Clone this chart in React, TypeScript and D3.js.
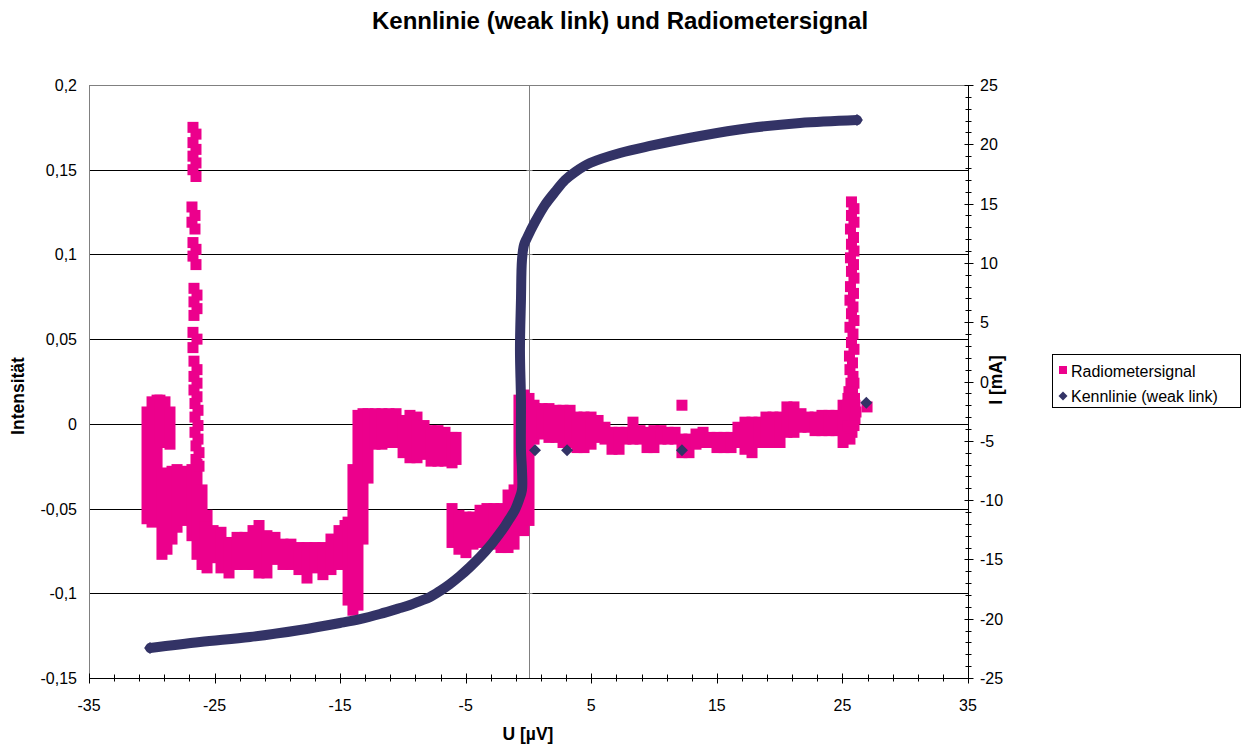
import React, { useEffect, useRef } from 'react';
import * as d3 from 'd3';

// Kennlinie (weak link): U [µV] vs I [mA], right axis
const kennlinie: [number, number][] = [
  [-30.14, -22.47], [-26.16, -21.96], [-22.18, -21.54], [-18.2, -20.95], [-15.01, -20.36],
  [-13.42, -20.03], [-11.83, -19.6], [-10.23, -19.1], [-9.44, -18.84], [-8.64, -18.51],
  [-7.84, -18.17], [-7.05, -17.66], [-6.25, -17.07], [-5.46, -16.4], [-4.66, -15.64],
  [-3.86, -14.8], [-3.07, -13.87], [-2.27, -12.77], [-1.87, -12.18], [-1.47, -11.51],
  [-1.08, -10.83], [-0.76, -9.99], [-0.52, -9.15], [-0.52, -7.46], [-0.6, -5.78],
  [-0.6, -1.56], [-0.68, 2.65], [-0.6, 6.87], [-0.52, 10.24], [-0.36, 11.51],
  [-0.12, 12.1], [0.52, 13.45], [1.31, 14.88], [2.11, 15.98], [2.91, 16.99],
  [3.7, 17.66], [4.9, 18.42], [7.29, 19.27], [9.67, 19.86], [13.66, 20.7],
  [17.64, 21.37], [21.62, 21.8], [26.16, 22.05]
];
const kennlinieStray: [number, number][] = [[0.52, -5.8], [3.07, -5.8], [12.22, -5.8], [26.9, -1.8]];

// Radiometersignal, dense stretches: [U, upper value, lower value] of each column of squares
const radioLeftCol: [number, number, number][] = [
  [-30.38, 0.007, -0.056], [-29.98, 0.013, -0.058], [-29.58, 0.014, -0.048]
];
const radioOval: [number, number, number][] = [
  [-29.35, 0.014, -0.009], [-28.95, 0.013, -0.011], [-28.55, 0.007, -0.012]
];
const radioMass: [number, number, number][] = [
  [-29.19, -0.030, -0.077], [-28.79, -0.029, -0.074], [-28.39, -0.028, -0.068], [-27.99, -0.027, -0.061],
  [-27.6, -0.028, -0.057], [-27.2, -0.032, -0.054], [-26.8, -0.027, -0.066], [-26.4, -0.024, -0.077],
  [-26.0, -0.039, -0.083], [-25.6, -0.054, -0.085]
];
const radioFloor: [number, number, number][] = [
  [-25.76, -0.061, -0.079], [-25.12, -0.063, -0.079], [-24.49, -0.064, -0.085], [-23.85, -0.070, -0.088],
  [-23.21, -0.067, -0.083], [-22.58, -0.067, -0.083], [-21.94, -0.063, -0.083], [-21.46, -0.060, -0.088],
  [-20.83, -0.066, -0.088], [-20.19, -0.067, -0.080], [-19.55, -0.071, -0.083], [-18.92, -0.071, -0.083],
  [-18.28, -0.073, -0.086], [-17.64, -0.073, -0.091], [-17.0, -0.073, -0.085], [-16.37, -0.073, -0.089],
  [-15.73, -0.068, -0.086], [-15.09, -0.063, -0.083], [-14.61, -0.060, -0.081]
];
const radioStep: [number, number, number][] = [
  [-14.37, -0.058, -0.104], [-13.98, -0.027, -0.110], [-13.58, 0.005, -0.107], [-13.18, 0.006, -0.068],
  [-12.78, 0.006, -0.032], [-12.22, 0.006, -0.012], [-11.67, 0.006, -0.012], [-11.11, 0.006, -0.011],
  [-10.55, 0.006, -0.011], [-9.99, 0.002, -0.017], [-9.44, 0.005, -0.020], [-8.88, 0.004, -0.020],
  [-8.32, -0.001, -0.018], [-7.76, -0.004, -0.022], [-7.21, -0.004, -0.022], [-6.65, -0.005, -0.022],
  [-6.09, -0.008, -0.023], [-5.77, -0.008, -0.021]
];
const radioMid: [number, number, number][] = [
  [-6.09, -0.050, -0.070], [-5.54, -0.054, -0.074], [-4.98, -0.055, -0.076], [-4.42, -0.055, -0.071],
  [-3.86, -0.051, -0.070], [-3.31, -0.050, -0.070], [-2.75, -0.050, -0.071], [-2.19, -0.050, -0.073],
  [-1.63, -0.042, -0.073], [-1.15, -0.039, -0.071], [-0.76, 0.014, -0.060], [-0.36, 0.017, -0.063],
  [0.04, 0.015, -0.057], [0.44, 0.011, -0.009]
];
const radioRight: [number, number, number][] = [
  [0.52, 0.009, -0.005], [1.08, 0.009, -0.006], [1.63, 0.009, -0.008], [2.19, 0.008, -0.008],
  [2.75, 0.008, -0.011], [3.31, 0.008, -0.011], [3.86, 0.004, -0.014], [4.42, 0.004, -0.014],
  [4.98, 0.004, -0.012], [5.54, 0.002, -0.008], [6.09, -0.002, -0.009], [6.65, -0.005, -0.015],
  [7.21, -0.005, -0.015], [7.76, -0.005, -0.009], [8.32, 0.001, -0.009], [8.88, -0.004, -0.009],
  [9.44, -0.005, -0.014], [9.99, -0.004, -0.014], [10.55, -0.004, -0.009], [11.11, -0.005, -0.009],
  [11.67, -0.005, -0.009], [12.22, -0.009, -0.017], [12.78, -0.009, -0.017], [13.34, -0.006, -0.012],
  [13.9, -0.005, -0.011], [14.45, -0.008, -0.011], [15.01, -0.008, -0.014], [15.57, -0.008, -0.014],
  [16.13, -0.008, -0.014], [16.68, -0.002, -0.011], [17.24, 0.001, -0.015], [17.8, 0.001, -0.017],
  [18.36, 0.001, -0.011], [18.91, 0.004, -0.011], [19.47, 0.004, -0.011], [20.03, 0.004, -0.011],
  [20.58, 0.010, -0.005], [21.14, 0.010, -0.005], [21.7, 0.006, -0.002], [22.26, 0.004, -0.002],
  [22.82, 0.004, -0.004], [23.37, 0.005, -0.004], [23.93, 0.005, -0.004], [24.49, 0.005, -0.004],
  [25.05, 0.011, -0.011]
];

// Radiometersignal, single squares: [U, value]
const radioSpike: [number, number][] = [
  [-26.72, 0.175], [-26.48, 0.171], [-26.72, 0.166], [-26.48, 0.162], [-26.72, 0.158], [-26.48, 0.154],
  [-26.72, 0.150], [-26.48, 0.146], [-26.8, 0.128], [-26.56, 0.123], [-26.8, 0.119], [-26.56, 0.115],
  [-26.72, 0.107], [-26.48, 0.103], [-26.72, 0.099], [-26.48, 0.094], [-26.64, 0.080], [-26.4, 0.076],
  [-26.64, 0.072], [-26.4, 0.068], [-26.64, 0.064], [-26.72, 0.054], [-26.4, 0.050], [-26.72, 0.045],
  [-26.64, 0.037], [-26.4, 0.032], [-26.64, 0.028], [-26.4, 0.024], [-26.64, 0.020], [-26.4, 0.016],
  [-26.56, 0.012], [-26.32, 0.008], [-26.56, 0.004], [-26.32, -0.001], [-26.56, -0.005], [-26.32, -0.009],
  [-26.48, -0.013], [-26.24, -0.017], [-26.48, -0.021], [-26.24, -0.025]
];
const radioPeak: [number, number][] = [
  [25.72, 0.131], [25.92, 0.127], [25.72, 0.123], [25.92, 0.119], [25.64, 0.115], [25.88, 0.110],
  [25.72, 0.106], [25.92, 0.102], [25.64, 0.098], [25.88, 0.094], [25.72, 0.090], [25.92, 0.086],
  [25.64, 0.081], [25.88, 0.077], [25.6, 0.073], [25.84, 0.069], [25.72, 0.065], [25.92, 0.061],
  [25.6, 0.057], [25.84, 0.053], [25.72, 0.048], [25.92, 0.044], [25.56, 0.040], [25.8, 0.036],
  [25.6, 0.032], [25.84, 0.028], [25.68, 0.024], [25.92, 0.024], [25.52, 0.019], [25.8, 0.019],
  [25.44, 0.015], [25.96, 0.015], [25.4, 0.011], [26.0, 0.011], [25.36, 0.007], [26.08, 0.007],
  [25.28, 0.003], [26.0, 0.003], [25.44, -0.001], [25.92, -0.001], [25.76, -0.005], [25.6, -0.009]
];
const radioSingles: [number, number][] = [[12.22, 0.011], [26.96, 0.010]];

const leftTicks = [-0.15, -0.1, -0.05, 0, 0.05, 0.1, 0.15, 0.2];
const leftTickLabels = ['-0,15', '-0,1', '-0,05', '0', '0,05', '0,1', '0,15', '0,2'];
const rightTicks = [-25, -20, -15, -10, -5, 0, 5, 10, 15, 20, 25];
const xTicks = [-35, -25, -15, -5, 5, 15, 25, 35];

const PINK = '#EC008C';
const NAVY = '#333366';

const App = () => {
  const svgRef = useRef<SVGSVGElement>(null);

  useEffect(() => {
    const svg = d3.select(svgRef.current);
    svg.selectAll('*').remove();
    const font = 'Arial, "Liberation Sans", sans-serif';
    const left = 89, right = 968, top = 85, bottom = 678;

    const x = d3.scaleLinear().domain([-35, 35]).range([left, right]);
    const yL = d3.scaleLinear().domain([-0.15, 0.2]).range([bottom, top]);
    const yR = d3.scaleLinear().domain([-25, 25]).range([bottom, top]);
    const px = (v: number) => Math.round(v) + 0.5;

    svg.append('rect').attr('width', 1244).attr('height', 744).attr('fill', '#fff');

    // gridlines
    svg.append('g').selectAll('line')
      .data(leftTicks.filter(t => t > -0.15))
      .enter().append('line')
      .attr('x1', left).attr('x2', right)
      .attr('y1', d => px(yL(d))).attr('y2', d => px(yL(d)))
      .attr('stroke', d => (d === 0.2 ? '#808080' : '#000'));

    // left border and the zero line
    svg.append('line').attr('x1', px(left)).attr('x2', px(left)).attr('y1', top).attr('y2', bottom)
      .attr('stroke', '#808080');
    svg.append('line').attr('x1', px(x(0))).attr('x2', px(x(0))).attr('y1', top).attr('y2', bottom)
      .attr('stroke', '#808080');
    svg.append('g').selectAll('line')
      .data(leftTicks)
      .enter().append('line')
      .attr('x1', px(x(0)) - 3).attr('x2', px(x(0)) + 3)
      .attr('y1', d => px(yL(d))).attr('y2', d => px(yL(d)))
      .attr('stroke', '#808080');

    // bottom axis
    const gx = svg.append('g');
    gx.append('line').attr('x1', left).attr('x2', right).attr('y1', px(bottom)).attr('y2', px(bottom))
      .attr('stroke', '#000');
    gx.selectAll('.minor').data(d3.range(-35, 36, 2)).enter().append('line')
      .attr('x1', d => px(x(d))).attr('x2', d => px(x(d)))
      .attr('y1', px(bottom) - 4).attr('y2', px(bottom) + 3)
      .attr('stroke', '#000');
    gx.selectAll('.major').data(xTicks).enter().append('line')
      .attr('x1', d => px(x(d))).attr('x2', d => px(x(d)))
      .attr('y1', px(bottom) - 5).attr('y2', px(bottom) + 5)
      .attr('stroke', '#000');
    gx.selectAll('text').data(xTicks).enter().append('text')
      .attr('x', d => x(d)).attr('y', 711)
      .attr('text-anchor', 'middle')
      .attr('font-family', font).attr('font-size', 16)
      .text(d => String(d));

    // left labels
    svg.append('g').selectAll('text').data(leftTicks).enter().append('text')
      .attr('x', 77).attr('y', d => yL(d) + 6)
      .attr('text-anchor', 'end')
      .attr('font-family', font).attr('font-size', 16)
      .text((d, i) => leftTickLabels[i]);

    // right axis
    const gr = svg.append('g');
    gr.append('line').attr('x1', px(right)).attr('x2', px(right)).attr('y1', top).attr('y2', bottom)
      .attr('stroke', '#000');
    gr.selectAll('.minor').data(d3.range(-25, 26, 1)).enter().append('line')
      .attr('x1', px(right) - 3).attr('x2', px(right) + 3)
      .attr('y1', d => px(yR(d))).attr('y2', d => px(yR(d)))
      .attr('stroke', '#000');
    gr.selectAll('.major').data(rightTicks).enter().append('line')
      .attr('x1', px(right) - 4).attr('x2', px(right) + 5)
      .attr('y1', d => px(yR(d))).attr('y2', d => px(yR(d)))
      .attr('stroke', '#000');
    gr.selectAll('text').data(rightTicks).enter().append('text')
      .attr('x', 980).attr('y', d => yR(d) + 6)
      .attr('font-family', font).attr('font-size', 16)
      .text(d => String(d));

    // Radiometersignal
    const s = 11;
    const gp = svg.append('g').attr('fill', PINK);
    const columns = [...radioLeftCol, ...radioOval, ...radioMass, ...radioFloor, ...radioStep, ...radioMid, ...radioRight];
    gp.selectAll('.col').data(columns).enter().append('rect')
      .attr('x', d => x(d[0]) - s / 2).attr('y', d => yL(d[1]) - s / 2)
      .attr('width', s).attr('height', d => yL(d[2]) - yL(d[1]) + s);
    gp.selectAll('.sq').data([...radioSpike, ...radioPeak, ...radioSingles]).enter().append('rect')
      .attr('x', d => x(d[0]) - s / 2).attr('y', d => yL(d[1]) - s / 2)
      .attr('width', s).attr('height', s);

    // Kennlinie: dense run of markers drawn as a thick band, ends and stray markers as diamonds
    const line = d3.line<[number, number]>()
      .x(d => x(d[0])).y(d => yR(d[1]))
      .curve(d3.curveCatmullRom.alpha(0.5));
    svg.append('path').datum(kennlinie)
      .attr('d', line)
      .attr('fill', 'none').attr('stroke', NAVY)
      .attr('stroke-width', 10).attr('stroke-linejoin', 'round').attr('stroke-linecap', 'round');
    const diamond = (r: number) => `M0,${-r}L${r},0L0,${r}L${-r},0Z`;
    const ends = [kennlinie[0], kennlinie[kennlinie.length - 1]];
    svg.append('g').selectAll('path').data([...ends, ...kennlinieStray]).enter().append('path')
      .attr('d', diamond(6))
      .attr('transform', d => `translate(${x(d[0])},${yR(d[1])})`)
      .attr('fill', NAVY);

    // titles
    svg.append('text').attr('x', 620).attr('y', 29).attr('text-anchor', 'middle')
      .attr('font-family', font).attr('font-size', 24).attr('font-weight', 'bold')
      .text('Kennlinie (weak link) und Radiometersignal');
    svg.append('text').attr('x', 528).attr('y', 740).attr('text-anchor', 'middle')
      .attr('font-family', font).attr('font-size', 17.5).attr('font-weight', 'bold')
      .text('U [µV]');
    svg.append('text').attr('transform', 'translate(24,396) rotate(-90)').attr('text-anchor', 'middle')
      .attr('font-family', font).attr('font-size', 17.5).attr('font-weight', 'bold')
      .text('Intensität');
    svg.append('text').attr('transform', 'translate(1002,380) rotate(-90)').attr('text-anchor', 'middle')
      .attr('font-family', font).attr('font-size', 17.5).attr('font-weight', 'bold')
      .text('I [mA]');

    // legend
    const lg = svg.append('g');
    lg.append('rect').attr('x', 1052.5).attr('y', 354.5).attr('width', 188).attr('height', 53)
      .attr('fill', '#fff').attr('stroke', '#000');
    lg.append('rect').attr('x', 1059).attr('y', 366).attr('width', 8).attr('height', 8).attr('fill', PINK);
    lg.append('text').attr('x', 1071).attr('y', 377)
      .attr('font-family', font).attr('font-size', 16).text('Radiometersignal');
    lg.append('path').attr('d', diamond(4.5)).attr('transform', 'translate(1063,396)').attr('fill', NAVY);
    lg.append('text').attr('x', 1071).attr('y', 402)
      .attr('font-family', font).attr('font-size', 16).text('Kennlinie (weak link)');
  }, []);

  return (
    <svg ref={svgRef} width={1244} height={744}
      style={{ position: 'absolute', left: 0, top: 0 }} />
  );
};

export default App;
